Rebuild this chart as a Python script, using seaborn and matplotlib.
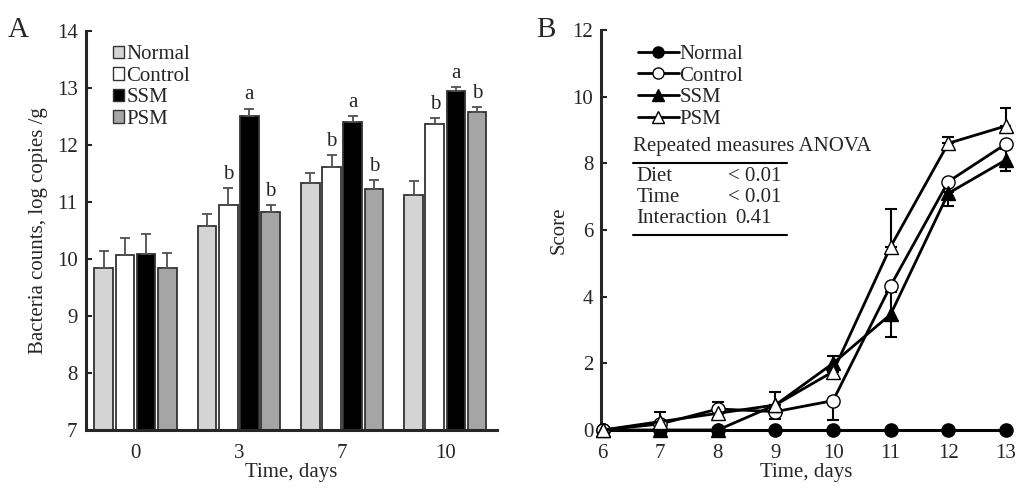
import pandas as pd
import seaborn as sns
import matplotlib.pyplot as plt
from matplotlib.patches import Patch
from matplotlib.lines import Line2D

# ----- Panel A data: bacteria counts (log copies /g) ----- #
days_a = ["0", "3", "7", "10"]
groups = ["Normal", "Control", "SSM", "PSM"]
normal_a = [9.84, 10.57, 11.33, 11.13]
control_a = [10.07, 10.95, 11.61, 12.37]
ssm_a = [10.09, 12.51, 12.41, 12.95]
psm_a = [9.85, 10.82, 11.23, 12.58]
normal_a_err = [0.30, 0.22, 0.18, 0.24]
control_a_err = [0.30, 0.29, 0.21, 0.10]
ssm_a_err = [0.34, 0.13, 0.09, 0.07]
psm_a_err = [0.25, 0.13, 0.16, 0.09]
control_letters = ["", "b", "b", "b"]
ssm_letters = ["", "a", "a", "a"]
psm_letters = ["", "b", "b", "b"]

# ----- Panel B data: score over time ----- #
days_b = [6, 7, 8, 9, 10, 11, 12, 13]
normal_b = [0, 0, 0, 0, 0, 0, 0, 0]
control_b = [0, 0.18, 0.63, 0.55, 0.88, 4.33, 7.45, 8.58]
ssm_b = [0, 0, 0, 0.75, 2.0, 3.47, 7.1, 8.1]
psm_b = [0, 0.25, 0.5, 0.75, 1.75, 5.5, 8.6, 9.12]
control_b_lo = [0, 0, 0.27, 0.22, 0.58, 0, 0.3, 0]
control_b_hi = [0, 0, 0.22, 0, 0, 0, 0, 0]
ssm_b_err = [0, 0, 0, 0, 0.22, 0.68, 0.38, 0.32]
psm_b_hi = [0, 0.28, 0.2, 0.4, 0, 1.12, 0.2, 0.55]

anova_rows = ["Diet", "Time", "Interaction"]
anova_p = ["< 0.01", "< 0.01", "0.41"]

bar_colors = ["#d4d4d4", "#ffffff", "#000000", "#a5a5a5"]

sns.set_style("ticks")
plt.rcParams["font.family"] = ["Liberation Serif", "DejaVu Serif"]
plt.rcParams["font.size"] = 15

fig = plt.figure(figsize=(10.16, 4.88), dpi=100)
ax_a = fig.add_axes([0.0846, 0.1189, 0.4046, 0.8176])
ax_b = fig.add_axes([0.592, 0.1189, 0.402, 0.8197])

# ----- Panel A ----- #
df_a = pd.DataFrame({
    "day": days_a * 4,
    "group": [g for g in groups for _ in days_a],
    "value": normal_a + control_a + ssm_a + psm_a,
})
sns.barplot(data=df_a, x="day", y="value", hue="group", order=days_a, hue_order=groups,
            palette=bar_colors, edgecolor="#333333", linewidth=1.3, width=0.82, gap=0.12,
            errorbar=None, legend=False, ax=ax_a)

errs = [normal_a_err, control_a_err, ssm_a_err, psm_a_err]
letters = [[""] * 4, control_letters, ssm_letters, psm_letters]
for cont, err, lets in zip(ax_a.containers, errs, letters):
    xs = [b.get_x() + b.get_width() / 2 for b in cont]
    ys = [b.get_height() for b in cont]
    ax_a.errorbar(xs, ys, yerr=[[0] * len(err), err], fmt="none", ecolor="#505050",
                  elinewidth=1.3, capsize=3.5, capthick=1.3, zorder=1)
    for x, y, e, t in zip(xs, ys, err, lets):
        if t:
            ax_a.annotate(t, (x, y + e), xytext=(0, 3), textcoords="offset points",
                          ha="center", va="bottom")

ax_a.set_ylim(7, 14)
ax_a.set_xlim(-0.48, 3.5)
ax_a.set_yticks(range(7, 15))
ax_a.set_xlabel("Time, days", labelpad=0)
ax_a.set_ylabel("Bacteria counts, log copies /g", labelpad=6)
leg_a = [Patch(facecolor=c, edgecolor="#333333", linewidth=1.0) for c in bar_colors]
ax_a.legend(leg_a, groups, loc="upper left", bbox_to_anchor=(0.045, 0.985), frameon=False,
            handlelength=0.55, handleheight=0.55, handletextpad=0.1, labelspacing=0.12,
            borderaxespad=0)

# ----- Panel B ----- #
series = [
    ("Normal", normal_b, "o", "black"),
    ("Control", control_b, "o", "white"),
    ("SSM", ssm_b, "^", "black"),
    ("PSM", psm_b, "^", "white"),
]
for name, vals, mk, fc in series:
    sns.lineplot(x=days_b, y=vals, marker=mk, color="black", markerfacecolor=fc,
                 markeredgecolor="black", markeredgewidth=1.0, markersize=9.5, linewidth=2.0,
                 clip_on=False, zorder=3, ax=ax_b, legend=False)

ax_b.errorbar(days_b, control_b, yerr=[control_b_lo, control_b_hi], fmt="none", ecolor="black",
              elinewidth=1.5, capsize=4, capthick=1.5, zorder=2)
ax_b.errorbar(days_b, ssm_b, yerr=ssm_b_err, fmt="none", ecolor="black",
              elinewidth=1.5, capsize=4, capthick=1.5, zorder=2)
ax_b.errorbar(days_b, psm_b, yerr=[[0] * len(psm_b_hi), psm_b_hi], fmt="none", ecolor="black",
              elinewidth=1.5, capsize=4, capthick=1.5, zorder=2)

ax_b.set_xlim(5.98, 13.07)
ax_b.set_ylim(0, 12)
ax_b.set_xticks(days_b)
ax_b.set_yticks(range(0, 13, 2))
ax_b.set_xlabel("Time, days", labelpad=0)
ax_b.set_ylabel("Score", labelpad=3)

leg_b = [Line2D([], [], color="black", linewidth=2.0, marker=mk, markerfacecolor=fc,
                markeredgecolor="black", markersize=8) for _, _, mk, fc in series]
ax_b.legend(leg_b, [s[0] for s in series], loc="upper left", bbox_to_anchor=(0.068, 0.985),
            frameon=False, handlelength=2.0, handletextpad=0.0, labelspacing=0.1,
            borderaxespad=0)

# ANOVA table
ax_b.text(0.077, 0.7075, "Repeated measures ANOVA", transform=ax_b.transAxes, ha="left", va="center")
ax_b.plot([0.077, 0.454], [0.6675, 0.6675], color="black", linewidth=1.5, transform=ax_b.transAxes)
ax_b.plot([0.077, 0.454], [0.4875, 0.4875], color="black", linewidth=1.5, transform=ax_b.transAxes)
for i, (row, p) in enumerate(zip(anova_rows, anova_p)):
    yy = 0.6325 - i * 0.0515
    ax_b.text(0.086, yy, row, transform=ax_b.transAxes, ha="left", va="center")
    ax_b.text(0.441 if p.startswith("<") else 0.418, yy, p, transform=ax_b.transAxes,
              ha="right", va="center")

for ax in (ax_a, ax_b):
    sns.despine(ax=ax)
    ax.spines["left"].set_linewidth(2.2)
    ax.spines["bottom"].set_linewidth(2.2)
    ax.tick_params(axis="y", direction="in", length=4, width=1.5, pad=6)
    ax.tick_params(axis="x", length=0, pad=10)

fig.text(0.008, 0.925, "A", fontsize=21)
fig.text(0.528, 0.925, "B", fontsize=21)

plt.savefig("out.png", dpi=100)
